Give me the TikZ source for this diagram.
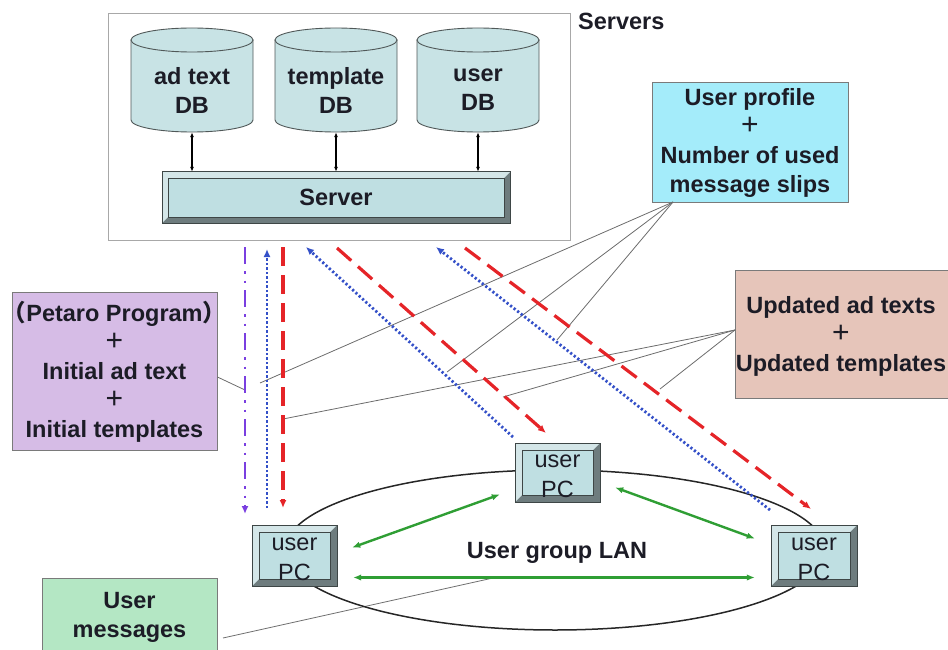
\documentclass[tikz,border=0pt]{standalone}
\usepackage{fontspec}
\setmainfont{Liberation Sans}
\newfontfamily\cjkfont{Noto Sans CJK SC}
\usetikzlibrary{arrows.meta,shapes.geometric}

\definecolor{txt}{HTML}{1C1C26}
\definecolor{framegray}{HTML}{A8A8A8}
\definecolor{cylface}{HTML}{C8E3E5}
\definecolor{cylline}{HTML}{505858}
\definecolor{bvface}{HTML}{BFDFE2}
\definecolor{bvlight}{HTML}{D4E6E8}
\definecolor{bvdark}{HTML}{6E7C7E}
\definecolor{bvline}{HTML}{3E4646}
\definecolor{profilefill}{HTML}{A4ECFA}
\definecolor{updfill}{HTML}{E6C5BA}
\definecolor{petfill}{HTML}{D6BCE6}
\definecolor{msgfill}{HTML}{B4E7C4}
\definecolor{boxline}{HTML}{7A7A7A}
\definecolor{leader}{HTML}{6C6C6C}
\definecolor{purp}{HTML}{7A3FE0}
\definecolor{blu}{HTML}{3450C8}
\definecolor{rd}{HTML}{E52428}
\definecolor{grn}{HTML}{2F9E34}

% raised (bevelled) panel: x1 y1 x2 y2 bevel
\newcommand\bevelpanel[5]{%
  \fill[bvdark] (#1,#2) rectangle (#3,#4);
  \fill[bvlight] (#1,#2) -- (#3,#2) -- (#3-#5,#2+#5) -- (#1+#5,#2+#5)
     -- (#1+#5,#4-#5) -- (#1,#4) -- cycle;
  \fill[bvface] (#1+#5,#2+#5) rectangle (#3-#5,#4-#5);
  \draw[bvline, line width=0.5pt] (#1+#5,#2+#5) rectangle (#3-#5,#4-#5);
  \draw[bvline, line width=1pt] (#1,#2) rectangle (#3,#4);
}

\tikzset{
  lbl/.style={font=\bfseries\fontsize{23.5}{29}\selectfont, align=center,
    text=txt, inner sep=0pt},
  pctxt/.style={font=\fontsize{23.5}{30}\selectfont, align=center,
    text=txt, inner sep=0pt},
  infobox/.style={draw=boxline, line width=0.9pt, inner sep=0pt},
  cyl/.style={fill=cylface, draw=cylline, line width=0.9pt},
  dbl/.style={{Latex[length=5pt,width=4pt]}-{Latex[length=5pt,width=4pt]},
    line width=1.2pt, black},
  leadline/.style={leader, line width=0.8pt},
  garrow/.style={{Latex[length=8pt,width=6.5pt]}-{Latex[length=8pt,width=6.5pt]},
    grn, line width=2.4pt},
  tip/.style={-{Latex[length=8pt,width=7pt]}},
  dashdotline/.style={purp, line width=2.8pt,
    dash pattern=on 17pt off 7pt on 2.5pt off 7pt on 2.5pt off 7pt},
  dotline/.style={blu, line width=2.8pt, dash pattern=on 2.2pt off 2.3pt},
  dashline/.style={rd, line width=3.2pt, dash pattern=on 19pt off 9pt},
}
\newcommand\pluss{{\mdseries\fontsize{30}{29}\selectfont +}}

\begin{document}
\begin{tikzpicture}[x=1pt,y=-1pt]
\useasboundingbox (0,0) rectangle (948,650);
\clip (0,0) rectangle (948,650);

% server room frame
\node[draw=framegray, line width=0.9pt, minimum width=462pt,
  minimum height=227pt, inner sep=0pt] (srvframe) at (339,126.5) {};
\node[lbl, anchor=west] (srvlbl) at (578,21) {Servers};

% databases
\foreach \cx/\nm/\t in {192/dbA/ad text, 336/dbT/template, 478/dbU/user}{
  \filldraw[cyl] (\cx-61,40) -- (\cx-61,120)
     arc[start angle=180, end angle=360, x radius=61pt, y radius=12pt]
     -- (\cx+61,40) -- cycle;
  \filldraw[cyl] (\cx,40) ellipse[x radius=61pt, y radius=12pt];
  \node[minimum width=122pt, minimum height=104pt, inner sep=0pt] (\nm) at (\cx,80) {};
  \node[lbl] (\nm-t) at (\cx,90) {\t\\DB};
}

% server
\bevelpanel{162}{172}{510}{223}{6}
\node[lbl, minimum width=348pt, minimum height=51pt] (srv) at (336,197.5) {Server};
\foreach \nm in {dbA,dbT,dbU}
  \draw[dbl] (\nm.south) -- (\nm.south |- srv.north);

% information boxes
\node[infobox, fill=profilefill, minimum width=196pt, minimum height=120pt]
  (profile) at (750,142) {};
\node[lbl] (profile-t) at (750,143) {User profile\\\pluss\\Number of used\\message slips};

\node[infobox, fill=updfill, minimum width=213pt, minimum height=128pt]
  (upd) at (841.5,334) {};
\node[lbl] (upd-t) at (841,336) {Updated ad texts\\\pluss\\Updated templates};

\node[infobox, fill=petfill, minimum width=205pt, minimum height=158pt]
  (pet) at (114.5,371) {};
\node[lbl] (pet-t) at (114.5,372) {{\cjkfont （}Petaro Program{\cjkfont ）}\\\pluss\\Initial ad text\\\pluss\\Initial templates};

\node[infobox, fill=msgfill, minimum width=175pt, minimum height=90pt]
  (msg) at (129.5,623) {};
\node[lbl] (msg-t) at (129.5,617) {User\\messages};

% flow end points
\coordinate (pA) at (245,247);  \coordinate (pB) at (245,514);
\coordinate (bA) at (267,508);  \coordinate (bB) at (267,249);
\coordinate (rA) at (283,247);  \coordinate (rB) at (283,508);
\coordinate (b1A) at (513,437); \coordinate (b1B) at (306,247);
\coordinate (r1A) at (337,248); \coordinate (r1B) at (546,433);
\coordinate (b2A) at (770,510); \coordinate (b2B) at (436,247);
\coordinate (r2A) at (465,248); \coordinate (r2B) at (811,509);

% leader lines from the boxes to the flows
\coordinate (profC) at (673,202);
\coordinate (updC) at (735,330);
\draw[leadline] (profC) -- (260,383);
\draw[leadline] (profC) -- (447,372);
\draw[leadline] (profC) -- (557,340);
\draw[leadline] (updC) -- (283,419);
\draw[leadline] (updC) -- (503,397);
\draw[leadline] (updC) -- (660,389);
\draw[leadline] (pet.east |- 0,377) -- (245,390);
\draw[leadline] (223,638) -- (493,578);

% user group LAN
\node[draw=black!85, line width=1.5pt, ellipse, minimum width=540pt,
  minimum height=160pt, inner sep=0pt] (lan) at (555,550) {};
\node[lbl] (lan-t) at (557,553) {User group LAN};

% user PCs
\bevelpanel{252}{525}{337}{586}{7}
\node[pctxt, minimum width=85pt, minimum height=61pt] (pcL) at (294.5,555.5) {};
\node[pctxt] at (294.5,559) {user\\PC};
\bevelpanel{515}{443}{600}{502}{7}
\node[pctxt, minimum width=85pt, minimum height=59pt] (pcM) at (557.5,472.5) {};
\node[pctxt] at (557.5,476) {user\\PC};
\bevelpanel{771}{525}{857}{586}{7}
\node[pctxt, minimum width=86pt, minimum height=61pt] (pcR) at (814,555.5) {};
\node[pctxt] at (814,559) {user\\PC};

% LAN traffic
\draw[garrow] ([shift={(15,-8)}]pcL.east) -- ([shift={(-15,22)}]pcM.west);
\draw[garrow] ([shift={(15,15)}]pcM.east) -- ([shift={(-16,-17)}]pcR.west);
\draw[garrow] ([shift={(16,22)}]pcL.east) -- ([shift={(-16,22)}]pcR.west);

% server <-> PC transfers
\draw[dashdotline, tip] (pA) -- (pB);
\draw[dotline, tip] (bA) -- (bB);
\draw[dashline, tip] (rA) -- (rB);
\draw[dotline, tip] (b1A) -- (b1B);
\draw[dashline, tip] (r1A) -- (r1B);
\draw[dotline, tip] (b2A) -- (b2B);
\draw[dashline, tip] (r2A) -- (r2B);
\end{tikzpicture}
\end{document}
